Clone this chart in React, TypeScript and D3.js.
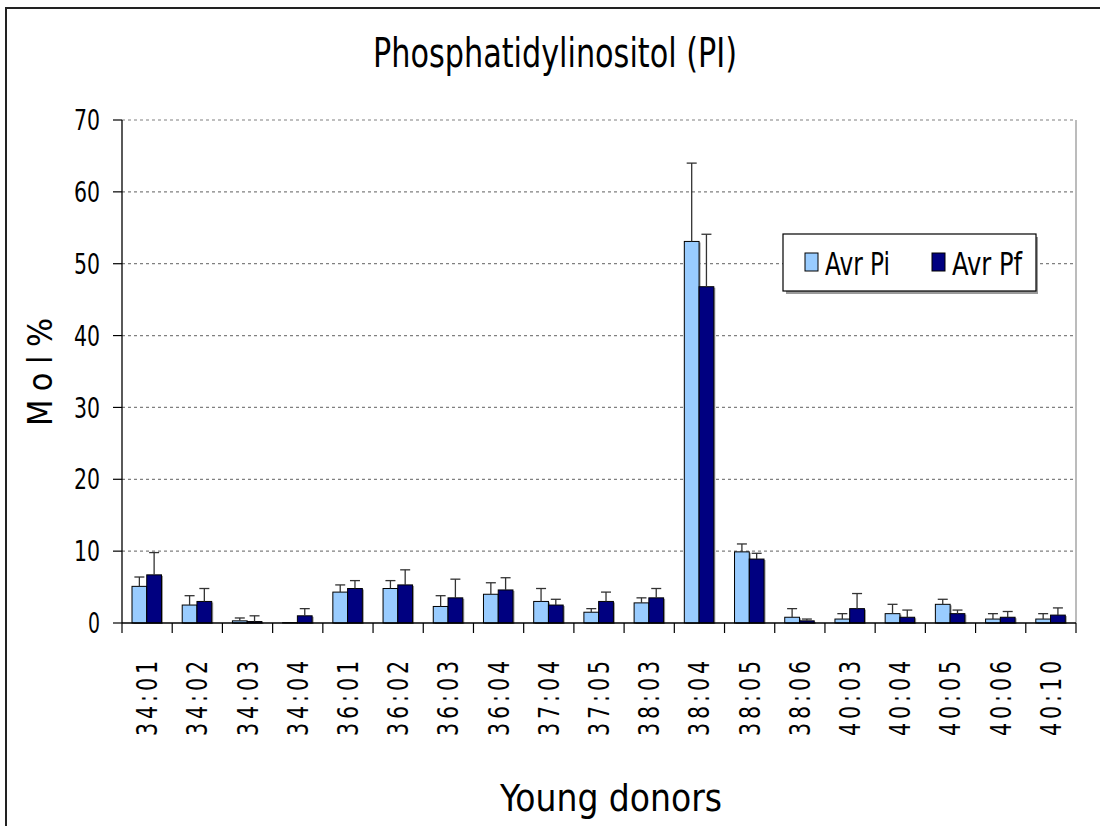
import React from "react";
import * as d3 from "d3";

const categories = ["34:01","34:02","34:03","34:04","36:01","36:02","36:03","36:04","37:04","37:05","38:03","38:04","38:05","38:06","40:03","40:04","40:05","40:06","40:10"];
const avrPi = [5.1, 2.5, 0.3, 0.05, 4.3, 4.8, 2.3, 4.0, 3.0, 1.5, 2.8, 53.1, 9.9, 0.8, 0.55, 1.3, 2.6, 0.55, 0.55];
const errPi = [1.3, 1.3, 0.4, 0, 1.0, 1.1, 1.5, 1.6, 1.8, 0.5, 0.7, 10.9, 1.1, 1.2, 0.75, 1.3, 0.7, 0.75, 0.75];
const avrPf = [6.7, 3.0, 0.2, 1.0, 4.8, 5.3, 3.5, 4.6, 2.5, 3.0, 3.5, 46.8, 8.9, 0.3, 2.0, 0.8, 1.3, 0.8, 1.1];
const errPf = [3.1, 1.8, 0.8, 1.0, 1.1, 2.1, 2.6, 1.7, 0.8, 1.3, 1.3, 7.3, 0.8, 0.25, 2.1, 1.0, 0.5, 0.8, 1.0];
const yTicks = [0, 10, 20, 30, 40, 50, 60, 70];
const seriesNames = ["Avr Pi", "Avr Pf"];
const seriesColors = ["#99CCFF", "#000080"];

const FONT = "'Liberation Sans Narrow', 'DejaVu Sans Condensed', 'Roboto Condensed', sans-serif";

export default function App() {
  const left = 122, right = 1076, top = 120, bottom = 623;
  const x = d3.scaleBand<string>().domain(categories).range([left, right]).paddingInner(0).paddingOuter(0);
  const inner = d3.scaleBand<string>().domain(seriesNames).range([10, 39.5]);
  const y = d3.scaleLinear().domain([0, 70]).range([bottom, top]);
  const series = [
    { name: seriesNames[0], vals: avrPi, errs: errPi, color: seriesColors[0] },
    { name: seriesNames[1], vals: avrPf, errs: errPf, color: seriesColors[1] },
  ];
  const bw = inner.bandwidth();

  return (
    <svg width={1100} height={826} style={{ position: "absolute", left: 0, top: 0, background: "#fff" }} fontFamily={FONT} fontWeight={300}>
      <rect x={0} y={0} width={1100} height={826} fill="#fff" />
      {/* outer chart border */}
      <rect x={6} y={8} width={1200} height={900} fill="none" stroke="#222" strokeWidth={2} />
      {/* title */}
      <text x={555} y={67} textAnchor="middle" fontSize={40} textLength={364} lengthAdjust="spacingAndGlyphs" fill="#000">Phosphatidylinositol (PI)</text>

      {/* gridlines */}
      {yTicks.filter(t => t > 0).map(t => (
        <line key={"g" + t} x1={left} x2={right} y1={y(t)} y2={y(t)} stroke="#808080" strokeWidth={1.2} strokeDasharray="3,3" />
      ))}
      {/* plot right border */}
      <line x1={right} x2={right} y1={top} y2={bottom} stroke="#a6a6a6" strokeWidth={1.5} />

      {/* bars */}
      {series.map((s) => (
        <g key={s.name}>
          {s.vals.map((v, i) => {
            const bx = (x(categories[i]) as number) + (inner(s.name) as number);
            return (
              <g key={i}>
                <rect x={bx + 1.5} y={y(v) + 1} width={bw} height={Math.max(0, bottom - y(v))} fill="#9a9a9a" />
                <rect x={bx} y={y(v)} width={bw} height={Math.max(0, bottom - y(v))} fill={s.color} stroke="#000" strokeWidth={1} />
              </g>
            );
          })}
        </g>
      ))}
      {/* error bars */}
      {series.map((s) => (
        <g key={"e" + s.name}>
          {s.vals.map((v, i) => {
            if (s.errs[i] <= 0) return null;
            const cx = (x(categories[i]) as number) + (inner(s.name) as number) + bw / 2;
            const yt = y(v + s.errs[i]);
            return (
              <g key={i} stroke="#333" strokeWidth={1.3}>
                <line x1={cx} x2={cx} y1={y(v)} y2={yt} />
                <line x1={cx - 5} x2={cx + 5} y1={yt} y2={yt} />
              </g>
            );
          })}
        </g>
      ))}

      {/* y axis */}
      <line x1={left} x2={left} y1={top} y2={bottom} stroke="#000" strokeWidth={1.3} />
      {yTicks.map(t => (
        <g key={"yt" + t}>
          <line x1={113} x2={left} y1={y(t)} y2={y(t)} stroke="#000" strokeWidth={1.2} />
          <text x={100} y={y(t)} dy="0.36em" textAnchor="end" fontSize={28} textLength={t === 0 ? 12 : 26} lengthAdjust="spacingAndGlyphs" fill="#000">{t}</text>
        </g>
      ))}
      {/* x axis */}
      <line x1={left} x2={right} y1={bottom} y2={bottom} stroke="#000" strokeWidth={1.3} />
      {categories.concat(["__end"]).map((c, i) => {
        const xx = left + i * x.bandwidth();
        return <line key={"xt" + i} x1={xx} x2={xx} y1={bottom} y2={bottom + 10} stroke="#000" strokeWidth={1.2} />;
      })}
      {categories.map((c) => {
        const cx = (x(c) as number) + x.bandwidth() / 2;
        return (
          <text key={"xl" + c} transform={`translate(${cx + 10},657) rotate(-90)`} textAnchor="end" fontSize={29} letterSpacing={5} textLength={79} lengthAdjust="spacingAndGlyphs" fill="#000">{c}</text>
        );
      })}

      {/* axis titles */}
      <text transform="translate(52,372) rotate(-90)" textAnchor="middle" fontSize={34} textLength={108} lengthAdjust="spacing" fill="#000">Mol%</text>
      <text x={611} y={811} textAnchor="middle" fontSize={38} textLength={222} lengthAdjust="spacingAndGlyphs" fill="#000">Young donors</text>

      {/* legend */}
      <rect x={786} y={237} width={252} height={57} fill="#9a9a9a" />
      <rect x={783} y={234} width={253} height={57} fill="#fff" stroke="#000" strokeWidth={1.2} />
      {series.map((s, i) => {
        const lx = i === 0 ? 805 : 932;
        return (
          <g key={"lg" + s.name}>
            <rect x={lx} y={253} width={13} height={18} fill={s.color} stroke="#000" strokeWidth={1} />
            <text x={lx + 20} y={275} fontSize={32} textLength={i === 0 ? 65 : 70} lengthAdjust="spacingAndGlyphs" fill="#000">{s.name}</text>
          </g>
        );
      })}
    </svg>
  );
}
